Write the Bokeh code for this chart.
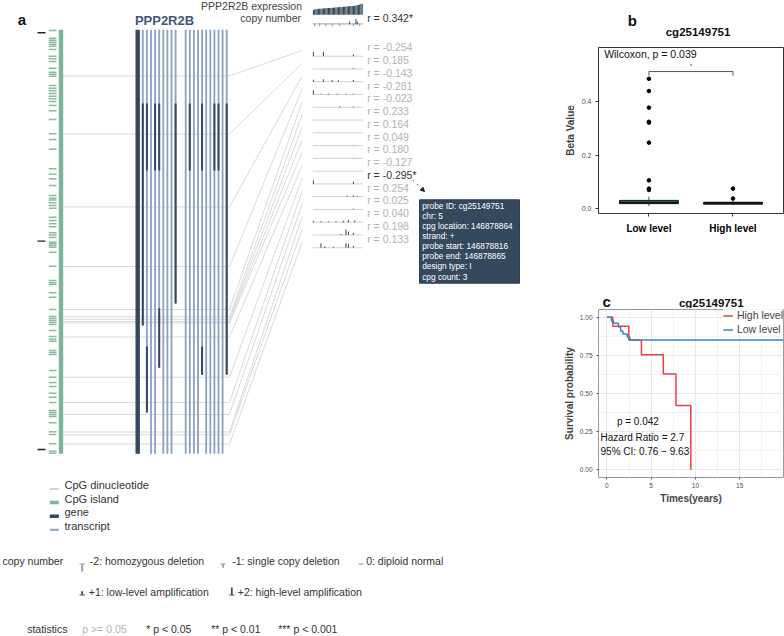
from bokeh.plotting import figure
from bokeh.models import (Range1d, ColumnDataSource, Label, Arrow, NormalHead,
                          FixedTicker, PrintfTickFormatter)
from bokeh.layouts import row, column
from bokeh.core.properties import value
from bokeh.embed import file_html
from bokeh.resources import INLINE

FONT = "Liberation Sans"

# ======================= DATA =======================
gene_name = "PPP2R2B"
probe_name = "cg25149751"

# --- panel a: genomic track (kb from first scale mark) ---
track_span_kb = [-1.5, 202.0]
scale_marks_kb = [0, 100, 200]
cpg_sites_kb = [-1.1, 2.6, 3.55, 4.5, 5.5, 6.4, 8.0, 11.2, 12.5, 13.8, 17.0, 18.9, 19.9,
                20.8, 25.3, 26.6, 27.8, 29.1, 30.4, 31.7, 33.0, 34.9, 37.4, 41.6, 48.5,
                51.2, 55.9, 65.3, 67.9, 70.1, 73.3, 78.1, 79.4, 80.3, 81.6, 82.9, 84.2,
                88.5, 90.1, 91.7, 93.1, 96.0, 97.0, 98.3, 100.5, 101.3, 102.1, 102.9,
                105.3, 112.0, 118.9, 120.0, 120.8, 124.8, 126.9, 132.8, 136.2, 137.1,
                138.1, 139.0, 140.0, 142.9, 145.8, 147.1, 148.0, 152.5, 153.4, 154.4,
                162.1, 165.3, 167.8, 169.8, 173.0, 174.9, 177.4, 181.3, 182.3, 183.2,
                184.2, 187.2, 191.5, 192.8, 197.3, 200.8, 201.8]
transcript_end_kb = [140.5, 182.2, 202, 202, 160.8, 202, 202, 202, 129.9, 202,
                     202, 202, 202, 164.1, 202, 202, 202, 202, 202, 164.1]
transcript_dark_kb = [[(33.9, 140.5)], [(33.9, 66.1), (150.6, 182.2)], [], [(33.9, 66.1)],
                      [(33.9, 66.1), (132.2, 160.8)], [], [], [], [(33.9, 129.9)], [],
                      [(33.9, 66.1)], [], [], [(33.9, 66.1), (150.6, 164.1)], [], [],
                      [(33.9, 66.1)], [(33.9, 66.1)], [], [(33.9, 164.1)]]
probe_pos_kb = [20.7, 48.6, 83.6, 112.2, 132.8, 136.3, 137.5, 138.6, 139.3, 146.0,
                165.3, 177.4, 183.2, 191.6, 193.0, 197.4]
probe_r = [-0.254, 0.185, -0.143, -0.281, -0.023, 0.233, 0.164, 0.049, 0.180, -0.127,
           -0.295, 0.254, 0.025, 0.040, 0.198, 0.133]
probe_significant = [False] * 10 + [True] + [False] * 5
expression_r = 0.342
expression_significant = True

# sparkline samples (40 samples sorted by expression)
expression_sorted = [0.42, 0.47, 0.50, 0.52, 0.53, 0.54, 0.55, 0.56, 0.57, 0.58, 0.59,
                     0.60, 0.61, 0.62, 0.62, 0.63, 0.64, 0.65, 0.66, 0.67, 0.68, 0.69,
                     0.70, 0.71, 0.72, 0.73, 0.74, 0.75, 0.76, 0.77, 0.78, 0.79, 0.80,
                     0.82, 0.84, 0.86, 0.89, 0.93, 0.97, 1.00]
copy_number_calls = [0, -1, 0, 0, 0, -1, 0, 0, 0, 0, -1, 0, 0, 0, 0, -1, 0, 0, 0, 0,
                     0, -1, 0, 0, 0, 0, 0, 0, 0, 1, 0, 0, -1, 0, 2, 1, 0, -1, 0, 0]
probe_spikes = [
    [(0, 0.6), (8, 0.65), (32, 0.25)],
    [(32, 0.12)],
    [(0, 0.3), (8, 0.35), (15, 0.25), (20, 0.2), (32, 0.25)],
    [(0, 0.6), (6, 0.1), (12, 0.1), (19, 0.1), (26, 0.1), (32, 0.12)],
    [(21, 0.15), (32, 0.1)],
    [],
    [],
    [(32, 0.06)],
    [(32, 0.06)],
    [],
    [(0, 0.5), (32, 0.35)],
    [(27, 0.15), (32, 0.2), (35, 0.1)],
    [(32, 0.1)],
    [(0, 0.2), (6, 0.15), (12, 0.15), (18, 0.15), (24, 0.2), (28, 0.35), (33, 0.25)],
    [(22, 0.15), (26, 0.8), (28, 0.5), (32, 0.3)],
    [(6, 0.6), (9, 0.2), (16, 0.15), (26, 0.65), (28, 0.55), (32, 0.3)],
]
probe_info = [("probe ID", "cg25149751"), ("chr", "5"), ("cpg location", "146878864"),
              ("strand", "+"), ("probe start", "146878816"), ("probe end", "146878865"),
              ("design type", "I"), ("cpg count", "3")]

track_legend_labels = ["CpG dinucleotide", "CpG island", "gene", "transcript"]
cn_levels = [-2, -1, 0, 1, 2]
cn_labels = ["-2: homozygous deletion", "-1: single copy deletion", "0: diploid normal",
             "+1: low-level amplification", "+2: high-level amplification"]
stat_labels = ["p >= 0.05", "* p < 0.05", "** p < 0.01", "*** p < 0.001"]

# --- panel b: boxplot ---
groups = ["Low level", "High level"]
group_pos = [1, 2]
box_q1 = [0.019, 0.017]
box_median = [0.023, 0.021]
box_q3 = [0.031, 0.024]
whisker_low = [0.010, 0.013]
whisker_high = [0.045, 0.030]
outliers_low = [0.486, 0.440, 0.378, 0.325, 0.322, 0.247, 0.106, 0.075, 0.070]
outliers_high = [0.075, 0.038]
wilcox_p = 0.039
bracket_y = 0.513

# --- panel c: Kaplan-Meier ---
high_time = [0, 0.67, 2.47, 3.9, 6.37, 7.8, 9.48]
high_surv = [1.0, 0.941, 0.851, 0.753, 0.628, 0.422, 0.0]
low_time = [0, 0.5, 0.75, 1.3, 1.55, 1.8, 2.3, 2.6, 20.0]
low_surv = [1.0, 0.975, 0.96, 0.935, 0.91, 0.89, 0.87, 0.851, 0.851]
km_p = 0.042
hazard_ratio = 2.7
ci_low, ci_high = 0.76, 9.63

# ======================= STYLE =======================
C_DARK = "#34495e"
C_TX = "#8aa1c4"
C_CPG = "#88bca4"
C_ISLAND = "#7db39b"
C_CONN = "#d9d9d9"
C_TXT = "#333333"
C_NS = "#b3b3b3"
C_RED = "#f03e3e"
C_BLUE = "#3d85c6"


def add_text(p, xs, ys, texts, size, color=C_TXT, align="left", style="normal",
             baseline="middle"):
    xs, ys, texts = list(xs), list(ys), list(texts)
    cols = list(color) if isinstance(color, list) else [color] * len(xs)
    src = ColumnDataSource(dict(x=xs, y=ys, t=texts, c=cols))
    p.text(x="x", y="y", text="t", source=src, text_color="c",
           text_font=value(FONT), text_font_size=value(size), text_align=align,
           text_baseline=baseline, text_font_style=style)


def add_seg(p, x0, y0, x1, y1, color, width, dash="solid"):
    p.segment(x0=list(x0), y0=list(y0), x1=list(x1), y1=list(y1),
              line_color=color, line_width=width, line_dash=dash)


def blank(width, height, x0, y0):
    """A plain drawing surface whose data units are page pixels."""
    p = figure(width=width, height=height, x_range=Range1d(x0, x0 + width),
               y_range=Range1d(y0 + height, y0), output_backend="svg",
               toolbar_location=None, min_border=0, x_axis_location=None,
               y_axis_location=None, outline_line_color=None)
    p.grid.visible = False
    return p


# ======================= PANEL A =======================
pa = blank(560, 636, 0, 0)

TRACK_Y0, KB_PX = 32.3, 2.0835
ROW_Y0, ROW_H = 55.7, 12.77
N_S = len(expression_sorted)
SPARK_X0, SPARK_W = 312.3, 50.0


def ty(kb):
    return TRACK_Y0 + KB_PX * kb


def ry(u):
    return ROW_Y0 + ROW_H * u


def sx(i):
    return SPARK_X0 + SPARK_W * (i + 0.5) / N_S


n_p = len(probe_pos_kb)
py = [ty(k) for k in probe_pos_kb]
# connectors
add_seg(pa, [63] * n_p, py, [229] * n_p, py, C_CONN, 1)
add_seg(pa, [229] * n_p, py, [301.7] * n_p, [ry(i - 0.45) for i in range(n_p)], C_CONN, 1)

# scale marks
add_seg(pa, [37] * 3, [ty(k) for k in scale_marks_kb], [45] * 3,
        [ty(k) for k in scale_marks_kb], "#222222", 1.4)
# CpG dinucleotides
add_seg(pa, [48.3] * len(cpg_sites_kb), [ty(k) for k in cpg_sites_kb],
        [56] * len(cpg_sites_kb), [ty(k) for k in cpg_sites_kb], C_CPG, 1.5)
# CpG island
add_seg(pa, [60.5], [ty(track_span_kb[0])], [60.5], [ty(track_span_kb[1])], C_ISLAND, 4.4)
# gene
add_seg(pa, [137.2], [ty(track_span_kb[0])], [137.2], [ty(track_span_kb[1])], C_DARK, 4.4)
# transcripts
tx_x = [142.3 + 4.1 * k + (6 if k >= 9 else 0) for k in range(len(transcript_end_kb))]
add_seg(pa, tx_x, [ty(track_span_kb[0])] * len(tx_x), tx_x,
        [ty(e) for e in transcript_end_kb], C_TX, 1.8)
dx, dy0, dy1 = [], [], []
for x, segs in zip(tx_x, transcript_dark_kb):
    for a, b in segs:
        dx.append(x); dy0.append(ty(a)); dy1.append(ty(b))
add_seg(pa, dx, dy0, dx, dy1, C_DARK, 2.0)

add_text(pa, [21.5], [19], ["a"], "15px", "#111111", "center", "bold")
add_text(pa, [164], [19.5], [gene_name], "13px", "#3f5877", "center", "bold")

# header: expression + copy number
add_text(pa, [301.5], [5.5], [gene_name + " expression"], "10.5px", "#444444", "right")
add_text(pa, [300.5], [17.5], ["copy number"], "10.5px", "#444444", "right")
EXPR_BASE = 14.2
pa.vbar(x=[sx(i) for i in range(N_S)], bottom=[EXPR_BASE] * N_S,
        top=[EXPR_BASE - 11 * v for v in expression_sorted], width=1.05,
        fill_color="#2c3e50", line_color=None)


def cn_glyph(p, xs, yb, vals, unit, half_w, stem_w, base_w):
    hx0, hx1, hy, hc = [], [], [], []
    vx, vy0, vy1, vc = [], [], [], []
    for x, y, v in zip(xs, yb, vals):
        col = "#a3a3a3" if v == 0 else ("#8f9bb0" if v < 0 else "#3c4f66")
        hx0.append(x - half_w); hx1.append(x + half_w); hy.append(y); hc.append(col)
        if v != 0:
            vx.append(x); vy0.append(y); vy1.append(y - v * unit); vc.append(col)
    p.segment(x0=hx0, y0=hy, x1=hx1, y1=hy, line_color=hc, line_width=base_w)
    p.segment(x0=vx, y0=vy0, x1=vx, y1=vy1, line_color=vc, line_width=stem_w)


CN_BASE = 23.3
cn_glyph(pa, [sx(i) for i in range(N_S)], [CN_BASE] * N_S, copy_number_calls,
         2.5, 0.55, 1.0, 1.2)
add_text(pa, [366.7], [17],
         ["r = %.3f%s" % (expression_r, "*" if expression_significant else "")],
         "10.5px", C_TXT)

# probe sparklines
add_seg(pa, [sx(-0.5)] * n_p, [ry(i) for i in range(n_p)], [sx(N_S - 0.5)] * n_p,
        [ry(i) for i in range(n_p)], "#c4c4c4", 0.8)
spx, spy0, spy1 = [], [], []
for i, spikes in enumerate(probe_spikes):
    for j, b in spikes:
        spx.append(sx(j)); spy0.append(ry(i)); spy1.append(ry(i) - 7 * b)
add_seg(pa, spx, spy0, spx, spy1, "#555555", 1.1)
add_text(pa, [366.7] * n_p, [ry(i) - 9 for i in range(n_p)],
         ["r = %.3f%s" % (r, "*" if s else "") for r, s in zip(probe_r, probe_significant)],
         "10.5px", [C_TXT if s else C_NS for s in probe_significant])

# tooltip of the significant probe
sig_i = probe_significant.index(True)
pa.quad(left=[419], right=[519], top=[199.3], bottom=[282.7], fill_color=C_DARK,
        line_color="#2c3e50")
add_text(pa, [421.7] * len(probe_info), [205 + 10.15 * k for k in range(len(probe_info))],
         ["%s: %s" % kv for kv in probe_info], "8.3px", "#ffffff")
pa.add_layout(Arrow(end=NormalHead(size=4, line_color="#222222", fill_color="#222222"),
                    x_start=412, y_start=ry(sig_i) - 4, x_end=424, y_end=191,
                    line_color="#222222", line_width=0.8, line_dash="dotted"))

# track legend
LEG_Y0, LEG_DY = 484.5, 13.6
leg_y = [LEG_Y0 + LEG_DY * k for k in range(4)]
leg_w = [1.2, 3.5, 3.5, 2.0]
leg_c = [C_CPG, C_ISLAND, C_DARK, C_TX]
for k in range(4):
    add_seg(pa, [49.3], [leg_y[k] + 4], [58.3], [leg_y[k] + 4], leg_c[k], leg_w[k])
add_text(pa, [64] * 4, leg_y, track_legend_labels, "11px", C_TXT)

# copy-number legend
add_text(pa, [2], [560], ["copy number"], "10.5px", C_TXT)
cn_gx = [81.7, 222.7, 360.5, 81.7, 231.3]
cn_tx = [89.3, 231.7, 365.7, 88.3, 237.3]
cn_ty = [560, 560, 560, 591, 591]
cn_glyph(pa, cn_gx, [y + 3.5 for y in cn_ty], cn_levels, 3.8, 2.6, 1.8, 1.2)
add_text(pa, cn_tx, cn_ty, cn_labels, "10.5px", C_TXT)

# statistics legend
add_text(pa, [26.7], [628.5], ["statistics"], "10.5px", C_TXT)
add_text(pa, [81.7, 145.7, 210.7, 277.7], [628.5] * 4, stat_labels, "10.5px",
         [C_NS, C_TXT, C_TXT, C_TXT])

# ======================= PANEL B =======================
hb = blank(224, 46, 560, 0)
add_text(hb, [601], [20], ["b"], "15px", "#111111", "center", "bold")
add_text(hb, [680.5], [31], [probe_name], "11.5px", "#111111", "center", "bold")

pb = figure(width=224, height=212, x_range=Range1d(0.4, 0.4 + 186 / 84.5),
            y_range=Range1d(-0.018, 0.603), output_backend="svg", toolbar_location=None,
            min_border_left=37, min_border_right=1, min_border_top=1,
            min_border_bottom=45, outline_line_color="#333333", outline_line_width=1)
pb.grid.visible = False
pb.xaxis.ticker = FixedTicker(ticks=group_pos)
pb.xaxis.major_label_overrides = {p: g for p, g in zip(group_pos, groups)}
pb.yaxis.ticker = FixedTicker(ticks=[0, 0.2, 0.4])
pb.yaxis.formatter = PrintfTickFormatter(format="%.1f")
pb.yaxis.axis_label = "Beta Value"
for ax in (pb.xaxis, pb.yaxis):
    ax.axis_line_color = None
    ax.major_tick_line_color = "#333333"
    ax.major_tick_out = 3
    ax.major_tick_in = 0
    ax.minor_tick_line_color = None
    ax.major_label_text_font = FONT
    ax.axis_label_text_font = FONT
pb.xaxis.major_label_text_font_size = "10px"
pb.xaxis.major_label_text_font_style = "bold"
pb.xaxis.major_label_text_color = "#000000"
pb.xaxis.major_label_standoff = 6
pb.yaxis.major_label_text_font_size = "7px"
pb.yaxis.major_label_text_color = "#4d4d4d"
pb.yaxis.major_label_standoff = 4
pb.yaxis.axis_label_text_font_size = "10px"
pb.yaxis.axis_label_text_font_style = "bold"
pb.yaxis.axis_label_standoff = 3

BW = 0.35
add_seg(pb, group_pos, whisker_low, group_pos, box_q1, "#222222", 0.8)
add_seg(pb, group_pos, box_q3, group_pos, whisker_high, "#222222", 0.8)
pb.quad(left=[x - BW for x in group_pos], right=[x + BW for x in group_pos],
        bottom=box_q1, top=box_q3, fill_color=["#1fb5b0", "#d9534f"],
        line_color="#111111", line_width=1)
add_seg(pb, [x - BW for x in group_pos], box_median, [x + BW for x in group_pos],
        box_median, "#111111", 2)
pb.scatter(x=[1] * len(outliers_low) + [2] * len(outliers_high),
           y=outliers_low + outliers_high, size=3.6, color="#000000")
add_seg(pb, [1, 1, 2], [bracket_y - 0.015, bracket_y, bracket_y],
        [1, 2, 2], [bracket_y, bracket_y, bracket_y - 0.015], "#555555", 1)
pb.add_layout(Label(x=1.5, y=bracket_y + 0.02, text="*", text_font=FONT,
                    text_font_size="6px", text_color="#444444", text_align="center",
                    text_baseline="middle"))
pb.add_layout(Label(x=0.467, y=0.579, text="Wilcoxon, p = %.3f" % wilcox_p,
                    text_font=FONT, text_font_size="10.5px", text_color="#111111",
                    text_align="left", text_baseline="middle"))

# ======================= PANEL C =======================
hc = blank(224, 50, 560, 258)
add_text(hc, [570], [300.5], ["c"], "15px", "#111111", "center", "bold")
add_text(hc, [696.5], [302.5], [probe_name], "11.5px", "#111111", "center", "bold")

pc = figure(width=224, height=209, x_range=Range1d(-0.95, -0.95 + 186 / 8.9),
            y_range=Range1d(-0.05, 1.05), output_backend="svg", toolbar_location=None,
            min_border_left=37, min_border_right=1, min_border_top=1,
            min_border_bottom=40, outline_line_color="#9a9a9a", outline_line_width=1)
pc.xaxis.ticker = FixedTicker(ticks=[0, 5, 10, 15], minor_ticks=[2.5, 7.5, 12.5, 17.5])
pc.yaxis.ticker = FixedTicker(ticks=[0, 0.25, 0.5, 0.75, 1.0],
                              minor_ticks=[0.125, 0.375, 0.625, 0.875])
pc.yaxis.formatter = PrintfTickFormatter(format="%.2f")
pc.grid.grid_line_color = "#e8e8e8"
pc.grid.minor_grid_line_color = "#f3f3f3"
pc.xaxis.axis_label = "Times(years)"
pc.yaxis.axis_label = "Survival probability"
for ax in (pc.xaxis, pc.yaxis):
    ax.axis_line_color = None
    ax.major_tick_line_color = "#555555"
    ax.major_tick_out = 2
    ax.major_tick_in = 0
    ax.minor_tick_line_color = None
    ax.major_label_text_font = FONT
    ax.major_label_text_font_size = "6.5px"
    ax.major_label_text_color = "#4d4d4d"
    ax.axis_label_text_font = FONT
    ax.axis_label_text_font_size = "10px"
    ax.axis_label_text_font_style = "bold"
pc.xaxis.major_label_standoff = 1
pc.yaxis.major_label_standoff = 2
pc.xaxis.axis_label_standoff = 2
pc.yaxis.axis_label_standoff = 2

pc.step(high_time, high_surv, mode="after", line_color=C_RED, line_width=1.5,
        legend_label="High level")
pc.step(low_time, low_surv, mode="after", line_color=C_BLUE, line_width=1.5,
        legend_label="Low level")
lg = pc.legend[0]
lg.location = "top_right"
lg.border_line_color = None
lg.background_fill_color = "#ffffff"
lg.background_fill_alpha = 0.9
lg.margin = 0
lg.padding = 2
lg.spacing = 2
lg.label_height = 11
lg.glyph_height = 11
lg.glyph_width = 10
lg.label_standoff = 4
lg.label_text_font = FONT
lg.label_text_font_size = "10.5px"

for txt, x, y, al in [("p = %.3f" % km_p, 3.5, 0.317, "center"),
                      ("Hazard Ratio = %s" % hazard_ratio, -0.72, 0.214, "left"),
                      ("95%% CI: %.2f \u2212 %.2f" % (ci_low, ci_high), -0.72, 0.118, "left")]:
    pc.add_layout(Label(x=x, y=y, text=txt, text_font=FONT, text_font_size="10px",
                        text_color="#111111", text_align=al, text_baseline="middle"))

layout = row(pa, column(hb, pb, hc, pc))
open("out.html", "w").write(file_html(layout, INLINE))
